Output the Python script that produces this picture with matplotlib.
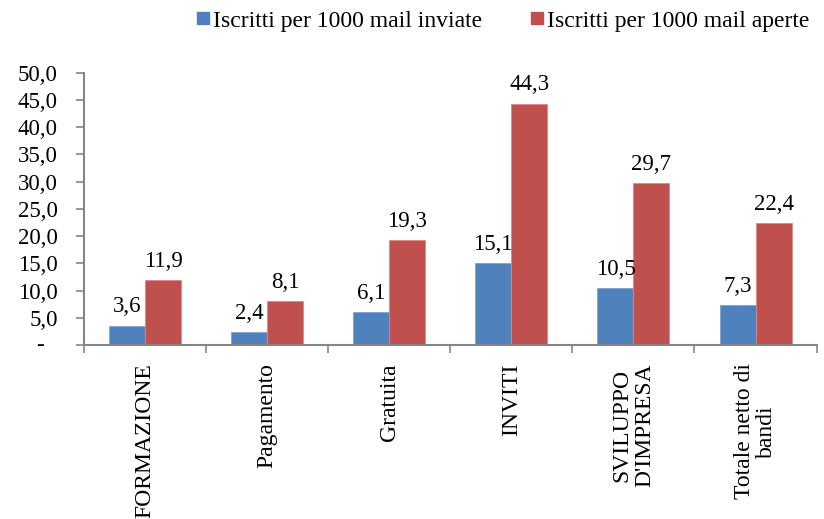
import matplotlib
matplotlib.use("Agg")
import matplotlib.pyplot as plt
import numpy as np
from matplotlib.ticker import FuncFormatter
from matplotlib.lines import Line2D

plt.rcParams['font.family'] = ['Liberation Serif', 'DejaVu Serif']

categorie = ["FORMAZIONE", "Pagamento", "Gratuita", "INVITI",
             "SVILUPPO\nD'IMPRESA", "Totale netto di\nbandi"]
inviate = [3.6, 2.4, 6.1, 15.1, 10.5, 7.3]
aperte = [11.9, 8.1, 19.3, 44.3, 29.7, 22.4]
serie = ["Iscritti per 1000 mail inviate", "Iscritti per 1000 mail aperte"]

blu = '#4F81BD'
rosso = '#C0504D'
grigio = '#868686'

fig = plt.figure(figsize=(8.24, 5.19), dpi=100)
ax = fig.add_axes([0.102, 0.335, 0.889, 0.525])

x = np.arange(len(categorie))
w = 0.295
b1 = ax.bar(x - w/2, inviate, w, color=blu, edgecolor='#7fa3d0', linewidth=0.6)
b2 = ax.bar(x + w/2, aperte, w, color=rosso, edgecolor='#d88a88', linewidth=0.6)

def fmt(v):
    return ('%.1f' % v).replace('.', ',')

for bars, vals in ((b1, inviate), (b2, aperte)):
    for r, v in zip(bars, vals):
        ax.annotate(fmt(v), (r.get_x() + r.get_width()/2, r.get_height()),
                    xytext=(0, 6), textcoords='offset points',
                    ha='center', va='bottom', fontsize=16.5)

ax.set_ylim(0, 50)
ax.set_yticks(np.arange(0, 51, 5))
ax.yaxis.set_major_formatter(FuncFormatter(lambda v, p: '' if v == 0 else fmt(v)))
ax.tick_params(axis='y', direction='out', length=6, width=1.2, color=grigio,
               labelsize=16.5, pad=13)
# zero shown as a dash, like the accounting format
ax.annotate('-', xy=(0, 0), xycoords=('axes fraction', 'data'),
            xytext=(-32, 0), textcoords='offset points',
            ha='center', va='center', fontsize=16.5)

ax.set_xlim(-0.5, len(categorie) - 0.5)
ax.set_xticks(x)
ax.set_xticklabels(categorie, rotation=90, ha='center', va='top',
                   multialignment='center', fontsize=17, linespacing=1.1)
ax.tick_params(axis='x', which='major', length=0, pad=13)
ax.set_xticks(np.arange(-0.5, len(categorie), 1), minor=True)
ax.tick_params(axis='x', which='minor', direction='out', length=6, width=1.2,
               color=grigio)

for s in ('top', 'right'):
    ax.spines[s].set_visible(False)
for s in ('left', 'bottom'):
    ax.spines[s].set_color(grigio)
    ax.spines[s].set_linewidth(1.5)

handles = [Line2D([], [], marker='s', linestyle='none', color=blu, markersize=8.5),
           Line2D([], [], marker='s', linestyle='none', color=rosso, markersize=8.5)]
fig.legend(handles, serie, loc='center', bbox_to_anchor=(0.61, 0.96), ncol=2,
           frameon=False, fontsize=17, handlelength=0.6, handletextpad=0.15,
           columnspacing=2.0)

fig.savefig('out.png', dpi=100)
